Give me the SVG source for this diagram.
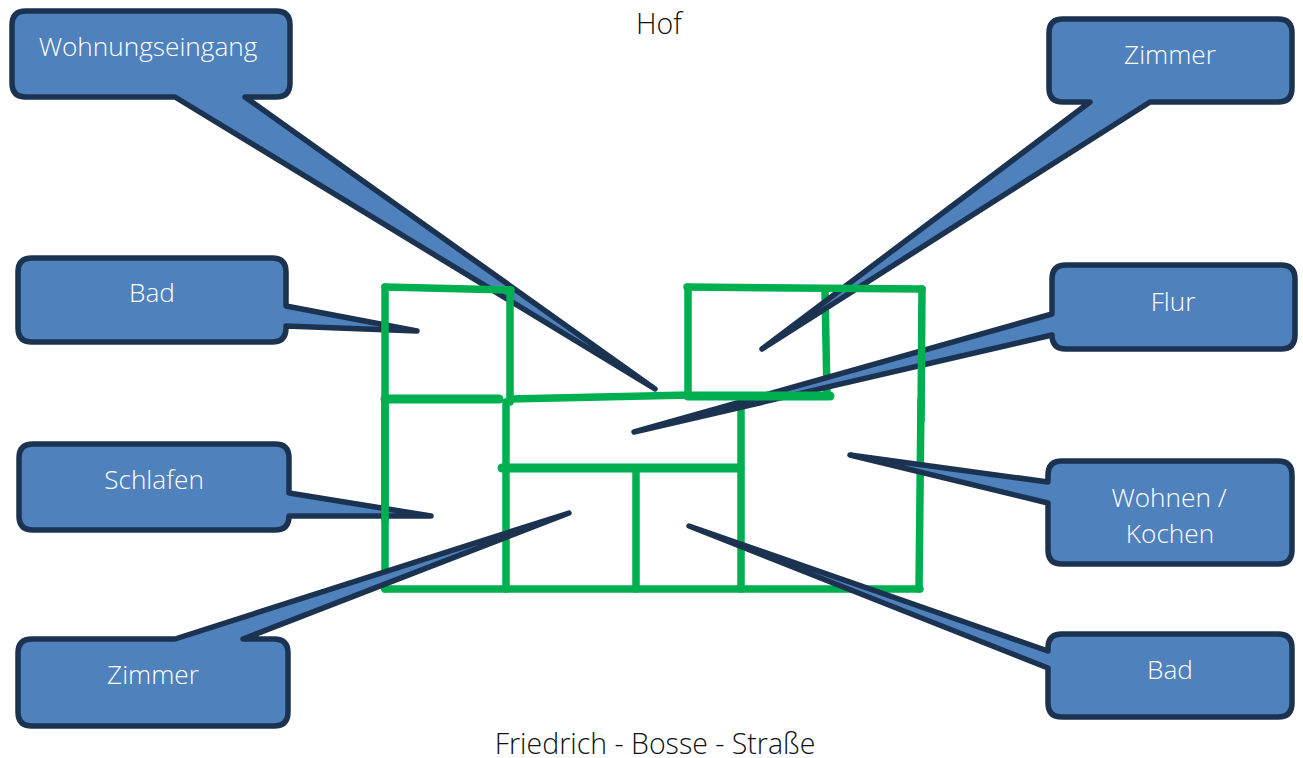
<svg xmlns="http://www.w3.org/2000/svg" width="1303" height="758" viewBox="0 0 1303 758">
<style>
.c{fill:#4f81bd;stroke:#1b3350;stroke-width:5.5;stroke-linejoin:round}
.w{fill:none;stroke:#00b050;stroke-width:7.5;stroke-linecap:round}
.t{font-family:"Open Sans","Liberation Sans",sans-serif;font-weight:300;font-size:26.2px;text-anchor:middle}
.b{stroke-width:9}
.l{fill:#fff}
.d{fill:#111;font-size:28.5px}
</style>
<rect width="1303" height="758" fill="#fff"/>
<g id="walls-under">
<path class="w" d="M385 400V589"/>
<path class="w" d="M506 402V589"/>
<path class="w" d="M636 470V589"/>
<path class="w" d="M741 400V589"/>
<path class="w" d="M385 589H920"/>
<path class="w" d="M921 400L919 589"/>
<path class="w" d="M825 290L827 396"/>
</g>
<g id="connectors"></g>
<g id="n-wohnungseingang"><path class="c" d="M26 11H276Q290 11 290 25V83Q290 97 276 97H245L655 389L175 97H26Q12 97 12 83V25Q12 11 26 11Z"/><text class="t l" x="148" y="56">Wohnungseingang</text></g>
<g id="n-zimmer-oben"><path class="c" d="M1063 19H1278Q1292 19 1292 33V88Q1292 102 1278 102H1150L762 349L1090 102H1063Q1049 102 1049 88V33Q1049 19 1063 19Z"/><text class="t l" x="1170" y="64">Zimmer</text></g>
<g id="n-flur"><path class="c" d="M1066 265H1281Q1295 265 1295 279V335Q1295 349 1281 349H1066Q1052 349 1052 335L634 432L1052 314V279Q1052 265 1066 265Z"/><text class="t l" x="1173" y="311">Flur</text></g>
<g id="n-wohnen"><path class="c" d="M1062 461H1278Q1292 461 1292 475V550Q1292 564 1278 564H1062Q1048 564 1048 550V503L850 455L1048 482V475Q1048 461 1062 461Z"/><text class="t l" x="1169" y="507">Wohnen /</text><text class="t l" x="1170" y="543">Kochen</text></g>
<g id="n-bad-rechts"><path class="c" d="M1062 634H1278Q1292 634 1292 648V703Q1292 717 1278 717H1062Q1048 717 1048 703V668L689 526L1048 651V648Q1048 634 1062 634Z"/><text class="t l" x="1170" y="679">Bad</text></g>
<g id="n-bad-links"><path class="c" d="M32 258H272Q286 258 286 272V306L417 331L286 326V328Q286 342 272 342H32Q18 342 18 328V272Q18 258 32 258Z"/><text class="t l" x="152" y="302">Bad</text></g>
<g id="n-schlafen"><path class="c" d="M33 444H275Q289 444 289 458V493L431 516L289 516Q289 530 275 530H33Q19 530 19 516V458Q19 444 33 444Z"/><text class="t l" x="154" y="489">Schlafen</text></g>
<g id="n-zimmer-unten"><path class="c" d="M32 639H175L569 513L243 639H274Q288 639 288 653V712Q288 726 274 726H32Q18 726 18 712V653Q18 639 32 639Z"/><text class="t l" x="153" y="684">Zimmer</text></g>
<g id="walls-over">
<path class="w" d="M385 287V520"/>
<path class="w" d="M385 287L511 290"/>
<path class="w" d="M510 290V402"/>
<path class="w b" d="M385 399H499"/>
<path class="w" d="M510 399L690 395"/>
<path class="w" d="M688 287V395"/>
<path class="w" d="M687 287L922 289"/>
<path class="w" d="M922 289L921 420"/>
<path class="w b" d="M688 396H830"/>
<path class="w b" d="M502 468H740"/>
</g>
<text class="t d" x="659" y="34">Hof</text>
<text class="t d" x="655" y="754">Friedrich - Bosse - Straße</text>
</svg>
